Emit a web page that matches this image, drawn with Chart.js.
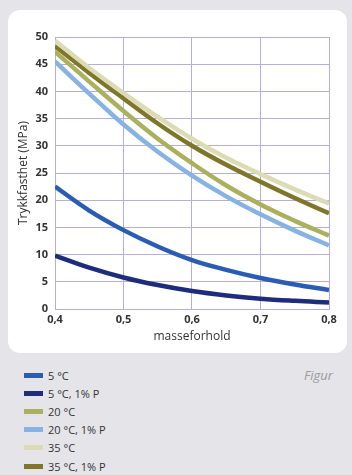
<!DOCTYPE html>
<html>
<head>
<meta charset="utf-8">
<script src="https://cdn.jsdelivr.net/npm/chart.js@4"></script>
<style>
  html, body { margin:0; padding:0; }
  body { width:352px; height:475px; background:#e4e4e9; position:relative; overflow:hidden; font-family:"Open Sans", sans-serif; }
  #panel { position:absolute; left:8px; top:10px; width:339px; height:343px; background:#fff; border-radius:12px; }
  #panel canvas { position:absolute; left:0; top:0; }
  #legend { position:absolute; left:24px; top:366px; }
  .item { height:18.2px; display:flex; align-items:center; font-size:11px; color:#333; }
  .sw { width:19px; height:5px; margin-right:5px; }
  #figur { position:absolute; left:304px; top:366px; font-size:13px; font-style:italic; color:#9a9a9a; font-family:"Open Sans", sans-serif; }
</style>
</head>
<body>
<div id="panel"><canvas id="c" width="339" height="343"></canvas></div>
<div id="legend"></div>
<div id="figur">Figur</div>
<script>
// ---- data ----
const xValues = [0.4, 0.45, 0.5, 0.55, 0.6, 0.65, 0.7, 0.75, 0.8];
const xTickLabels = ['0,4', '0,5', '0,6', '0,7', '0,8'];
const seriesNames = ['5 °C', '5 °C, 1% P', '20 °C', '20 °C, 1% P', '35 °C', '35 °C, 1% P'];
const s5 = [22.5, 18.1, 14.5, 11.5, 9.0, 7.2, 5.7, 4.5, 3.5];
const s5P = [9.8, 7.6, 5.8, 4.4, 3.3, 2.5, 1.9, 1.5, 1.2];
const s20 = [47.3, 41.8, 36.4, 31.3, 26.8, 22.7, 19.2, 16.2, 13.5];
const s20P = [45.5, 39.6, 33.9, 28.9, 24.5, 20.7, 17.4, 14.4, 11.7];
const s35 = [49.3, 44.3, 39.7, 35.3, 31.3, 27.8, 24.8, 22.0, 19.4];
const s35P = [48.3, 43.4, 38.7, 34.1, 30.0, 26.5, 23.4, 20.4, 17.6];
const yTicksMax = 50, yStep = 5;

const colors = ['#2b5cb3', '#1d2d7c', '#abb05e', '#86b3e2', '#dcdcb4', '#7e7729'];
const seriesData = [s5, s5P, s20, s20P, s35, s35P];

const datasets = seriesData.map((arr, i) => ({
  label: seriesNames[i],
  data: arr.map((v, j) => ({x: xValues[j], y: v})),
  borderColor: colors[i],
  backgroundColor: colors[i],
  borderWidth: 4.5,
  pointRadius: 0,
  tension: 0.4,
  fill: false,
  order: i === 4 ? 0 : 1
}));

const gridColor = '#b6add8';
const chart = new Chart(document.getElementById('c'), {
  type: 'line',
  data: { datasets },
  options: {
    responsive: false,
    animation: false,
    layout: { padding: { left: 8, right: 18, top: 27, bottom: 9 } },
    plugins: { legend: { display: false }, tooltip: { enabled: false } },
    scales: {
      x: {
        type: 'linear', min: 0.4, max: 0.8,
        ticks: { stepSize: 0.1, padding: 4, color: '#333', font: { family: 'Open Sans', size: 11, weight: 'bold' },
                 callback: (v, i) => xTickLabels[i] },
        grid: { color: gridColor, drawTicks: false, lineWidth: 1 },
        border: { color: gridColor },
        title: { display: true, text: 'masseforhold', color: '#333', padding: 0, font: { family: 'Open Sans', size: 12 } },
        afterFit: s => { s.height = 35; }
      },
      y: {
        min: 0, max: yTicksMax,
        ticks: { stepSize: yStep, padding: 7, color: '#333', font: { family: 'Open Sans', size: 11, weight: 'bold' } },
        grid: { color: gridColor, drawTicks: false, lineWidth: 1 },
        border: { color: gridColor },
        title: { display: true, text: 'Trykkfasthet (MPa)', color: '#333', padding: 0, font: { family: 'Open Sans', size: 12 } },
        afterFit: s => { s.width = 39; }
      }
    }
  }
});

// HTML legend built from the chart's datasets
const leg = document.getElementById('legend');
chart.data.datasets.forEach(ds => {
  const it = document.createElement('div'); it.className = 'item';
  const sw = document.createElement('div'); sw.className = 'sw'; sw.style.background = ds.borderColor;
  const tx = document.createElement('span'); tx.textContent = ds.label;
  it.appendChild(sw); it.appendChild(tx); leg.appendChild(it);
});
</script>
</body>
</html>
